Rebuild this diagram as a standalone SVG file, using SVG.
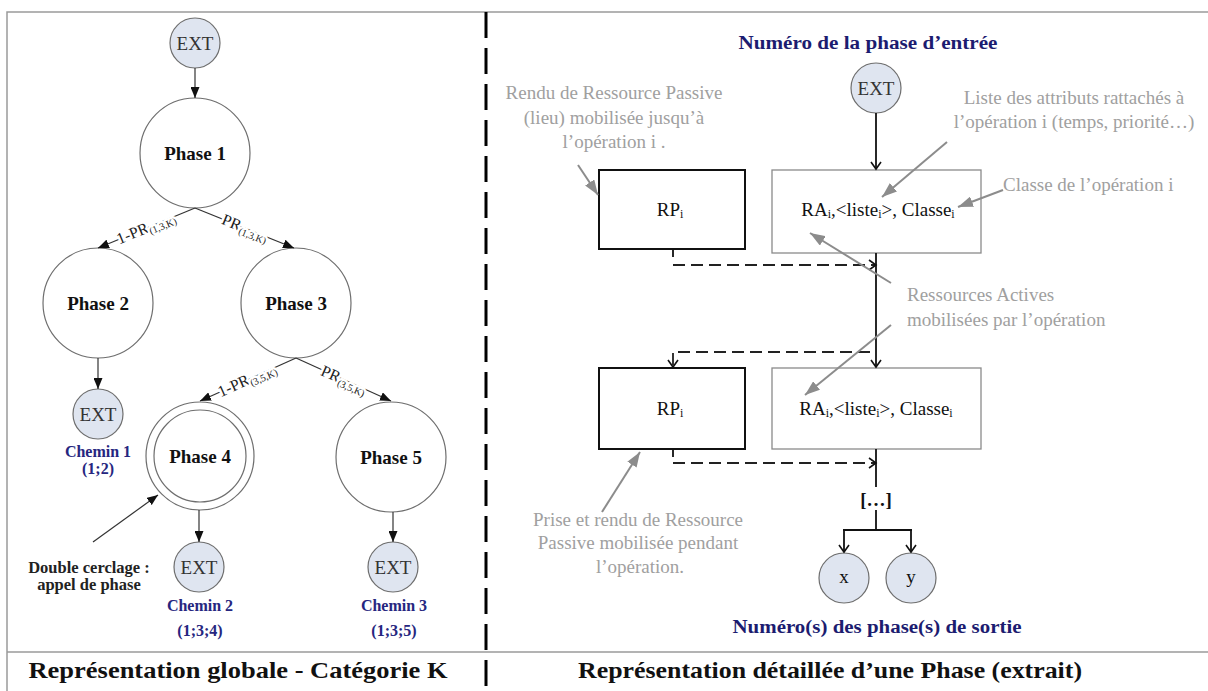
<svg xmlns="http://www.w3.org/2000/svg" width="1208" height="691" viewBox="0 0 1208 691">
<style>
text{font-family:"Liberation Serif","Times New Roman",serif;}
.frame{stroke:#9a9a9a;stroke-width:1.5;fill:none;}
.div{stroke:#000;stroke-width:3;stroke-dasharray:26 10;fill:none;}
.ph{fill:#fff;stroke:#6e6e6e;stroke-width:1.2;}
.ext{fill:#dfe5f0;stroke:#6e6e6e;stroke-width:1.2;}
.ptxt{font-size:19px;font-weight:bold;fill:#111;text-anchor:middle;}
.etxt{font-size:19px;fill:#333;text-anchor:middle;}
.lbl{font-size:16px;fill:#222;text-anchor:middle;stroke:#fff;stroke-width:5;paint-order:stroke;stroke-linejoin:round;}
.sub{font-size:10px;}
.chem{font-size:16px;font-weight:bold;fill:#262680;text-anchor:middle;}
.navy{font-size:18px;font-weight:bold;fill:#1c1c70;text-anchor:middle;}
.blk{font-size:16.5px;font-weight:bold;fill:#222;text-anchor:middle;}
.gray{font-size:19px;fill:#a0a0a0;}
.title{font-size:24px;font-weight:bold;fill:#111;text-anchor:middle;}
.e{stroke:#333;stroke-width:1.2;fill:none;}
.k{stroke:#111;stroke-width:1.8;fill:none;}
.kd{stroke:#222;stroke-width:1.8;fill:none;stroke-dasharray:12 6;}
.g{stroke:#8c8c8c;stroke-width:2;fill:none;}
.rp{fill:#fff;stroke:#111;stroke-width:2;}
.ra{fill:#fff;stroke:#8a8a8a;stroke-width:1.3;}
.btxt{font-size:19px;fill:#111;text-anchor:middle;}
</style>
<defs>
<marker id="af" markerUnits="userSpaceOnUse" markerWidth="11" markerHeight="9" refX="11" refY="4.5" orient="auto"><path d="M0,0 L11,4.5 L0,9 z" fill="#111"/></marker>
<marker id="ao" markerUnits="userSpaceOnUse" markerWidth="10" markerHeight="12" refX="8" refY="6" orient="auto"><path d="M1,1 L8,6 L1,11" fill="none" stroke="#111" stroke-width="1.6"/></marker>
<marker id="ag" markerUnits="userSpaceOnUse" markerWidth="15" markerHeight="11" refX="15" refY="5.5" orient="auto"><path d="M0,0 L15,5.5 L0,11 z" fill="#8c8c8c"/></marker>
</defs>
<rect width="1208" height="691" fill="#fff"/>
<g id="frame">
<polyline class="frame" points="1208,12 7,12 7,691"/>
<line class="frame" x1="7" y1="652" x2="1208" y2="652"/>
<line class="div" x1="486" y1="12" x2="486" y2="691"/>
</g>
<g id="ext-top"><circle class="ext" cx="195" cy="43" r="25"/><text class="etxt" x="195" y="50">EXT</text></g>
<g id="phase1"><circle class="ph" cx="195" cy="153" r="55"/><text class="ptxt" x="195" y="160">Phase 1</text></g>
<g id="phase2"><circle class="ph" cx="98" cy="303" r="55"/><text class="ptxt" x="98" y="310">Phase 2</text></g>
<g id="phase3"><circle class="ph" cx="296" cy="303" r="55"/><text class="ptxt" x="296" y="310">Phase 3</text></g>
<g id="ext1"><circle class="ext" cx="98" cy="414" r="25"/><text class="etxt" x="98" y="421">EXT</text>
<text class="chem" x="98" y="457">Chemin 1</text><text class="chem" x="98" y="474">(1;2)</text></g>
<g id="phase4"><circle class="ph" cx="200" cy="456" r="54"/><circle class="ph" cx="200" cy="456" r="46"/><text class="ptxt" x="200" y="463">Phase 4</text></g>
<g id="phase5"><circle class="ph" cx="391" cy="457" r="55"/><text class="ptxt" x="391" y="464">Phase 5</text></g>
<g id="ext2"><circle class="ext" cx="199" cy="567" r="25"/><text class="etxt" x="199" y="574">EXT</text>
<text class="chem" x="200" y="611">Chemin 2</text><text class="chem" x="200" y="636">(1;3;4)</text></g>
<g id="ext3"><circle class="ext" cx="393" cy="567" r="25"/><text class="etxt" x="393" y="574">EXT</text>
<text class="chem" x="394" y="611">Chemin 3</text><text class="chem" x="394" y="636">(1;3;5)</text></g>
<g id="note-double"><text class="blk" x="89" y="573">Double cerclage :</text><text class="blk" x="89" y="590">appel de phase</text></g>
<g id="entry-label"><text class="navy" x="868" y="49" textLength="259" lengthAdjust="spacingAndGlyphs">Numéro de la phase d’entrée</text></g>
<g id="ext-right"><circle class="ext" cx="876" cy="88" r="25"/><text class="etxt" x="876" y="95">EXT</text></g>
<g id="rp1"><rect class="rp" x="599" y="170" width="146" height="79"/><text class="btxt" x="670" y="216">RP<tspan font-size="12" dy="2">i</tspan></text></g>
<g id="ra1"><rect class="ra" x="772" y="170" width="209" height="83"/><text class="btxt" x="878" y="216">RA<tspan font-size="12" dy="2">i</tspan><tspan dy="-2">,&lt;liste</tspan><tspan font-size="12" dy="2">i</tspan><tspan dy="-2">&gt;, Classe</tspan><tspan font-size="12" dy="2">i</tspan></text></g>
<g id="rp2"><rect class="rp" x="599" y="368" width="146" height="81"/><text class="btxt" x="670" y="415">RP<tspan font-size="12" dy="2">i</tspan></text></g>
<g id="ra2"><rect class="ra" x="772" y="368" width="209" height="81"/><text class="btxt" x="876" y="415">RA<tspan font-size="12" dy="2">i</tspan><tspan dy="-2">,&lt;liste</tspan><tspan font-size="12" dy="2">i</tspan><tspan dy="-2">&gt;, Classe</tspan><tspan font-size="12" dy="2">i</tspan></text></g>
<g id="ellipsis"><text class="btxt" x="876" y="506" font-weight="bold" font-size="17">[…]</text></g>
<g id="out-x"><circle class="ext" cx="844" cy="578" r="25"/><text class="btxt" x="844" y="583" font-size="14" fill="#333">x</text></g>
<g id="out-y"><circle class="ext" cx="911" cy="578" r="25"/><text class="btxt" x="911" y="583" font-size="14" fill="#333">y</text></g>
<g id="exit-label"><text class="navy" x="877" y="633" textLength="289" lengthAdjust="spacingAndGlyphs">Numéro(s) des phase(s) de sortie</text></g>
<g id="note-rendu"><text class="gray" text-anchor="middle" x="614" y="99">Rendu de Ressource Passive</text><text class="gray" text-anchor="middle" x="614" y="124">(lieu) mobilisée jusqu’à</text><text class="gray" text-anchor="middle" x="614" y="148">l’opération i .</text></g>
<g id="note-liste"><text class="gray" text-anchor="middle" x="1074" y="104">Liste des attributs rattachés à</text><text class="gray" text-anchor="middle" x="1074" y="128">l’opération i (temps, priorité…)</text></g>
<g id="note-classe"><text class="gray" x="1003" y="191">Classe de l’opération i</text></g>
<g id="note-ra"><text class="gray" x="907" y="301">Ressources Actives</text><text class="gray" x="907" y="326">mobilisées par l’opération</text></g>
<g id="note-prise"><text class="gray" text-anchor="middle" x="638" y="526">Prise et rendu de Ressource</text><text class="gray" text-anchor="middle" x="638" y="549">Passive mobilisée pendant</text><text class="gray" text-anchor="middle" x="640" y="573">l’opération.</text></g>
<g id="titles"><text class="title" x="238" y="678" textLength="419" lengthAdjust="spacingAndGlyphs">Représentation globale - Catégorie K</text><text class="title" x="830" y="678" textLength="504" lengthAdjust="spacingAndGlyphs">Représentation détaillée d’une Phase (extrait)</text></g>
<g id="connectors">
<line class="e" x1="195" y1="68" x2="195" y2="98" marker-end="url(#af)"/>
<line class="e" x1="195" y1="208" x2="98" y2="248" marker-end="url(#af)"/>
<line class="e" x1="195" y1="208" x2="294" y2="248" marker-end="url(#af)"/>
<line class="e" x1="98" y1="358" x2="98" y2="389" marker-end="url(#af)"/>
<line class="e" x1="296" y1="358" x2="200" y2="401" marker-end="url(#af)"/>
<line class="e" x1="296" y1="358" x2="391" y2="401" marker-end="url(#af)"/>
<line class="e" x1="199" y1="510" x2="199" y2="542" marker-end="url(#af)"/>
<line class="e" x1="393" y1="512" x2="393" y2="542" marker-end="url(#af)"/>
<line class="e" x1="93" y1="542" x2="158" y2="495" marker-end="url(#af)"/>
<line class="k" x1="876" y1="113" x2="876" y2="169" marker-end="url(#ao)"/>
<line class="k" x1="673" y1="249" x2="673" y2="257"/>
<line class="kd" x1="673" y1="265" x2="876" y2="265" marker-end="url(#ao)"/>
<line class="k" x1="876" y1="253" x2="876" y2="367" marker-end="url(#ao)"/>
<polyline class="kd" points="870,352 673,352 673,367" marker-end="url(#ao)"/>
<line class="k" x1="673" y1="449" x2="673" y2="457"/>
<line class="kd" x1="673" y1="463" x2="876" y2="463" marker-end="url(#ao)"/>
<line class="k" x1="876" y1="449" x2="876" y2="487"/>
<line class="k" x1="876" y1="510" x2="876" y2="530"/>
<line class="k" x1="843" y1="530" x2="912" y2="530"/>
<line class="k" x1="844" y1="530" x2="844" y2="552" marker-end="url(#ao)"/>
<line class="k" x1="911" y1="530" x2="911" y2="552" marker-end="url(#ao)"/>
<line class="g" x1="578" y1="165" x2="598" y2="195" marker-end="url(#ag)"/>
<line class="g" x1="947" y1="142" x2="882" y2="197" marker-end="url(#ag)"/>
<line class="g" x1="1003" y1="190" x2="958" y2="207" marker-end="url(#ag)"/>
<line class="g" x1="891" y1="283" x2="810" y2="233" marker-end="url(#ag)"/>
<line class="g" x1="891" y1="325" x2="805" y2="395" marker-end="url(#ag)"/>
<line class="g" x1="602" y1="512" x2="640" y2="452" marker-end="url(#ag)"/>
</g>
<g id="edge-labels">
<text class="lbl" transform="translate(146,228) rotate(-22.4)" y="5">1-PR<tspan class="sub" dy="3">(1,3,K)</tspan></text>
<text class="lbl" transform="translate(245,228) rotate(22)" y="5">PR<tspan class="sub" dy="3">(1,3,K)</tspan></text>
<text class="lbl" transform="translate(247,380) rotate(-24)" y="5">1-PR<tspan class="sub" dy="3">(3,5,K)</tspan></text>
<text class="lbl" transform="translate(344,380) rotate(24)" y="5">PR<tspan class="sub" dy="3">(3,5,K)</tspan></text>
</g>
</svg>
